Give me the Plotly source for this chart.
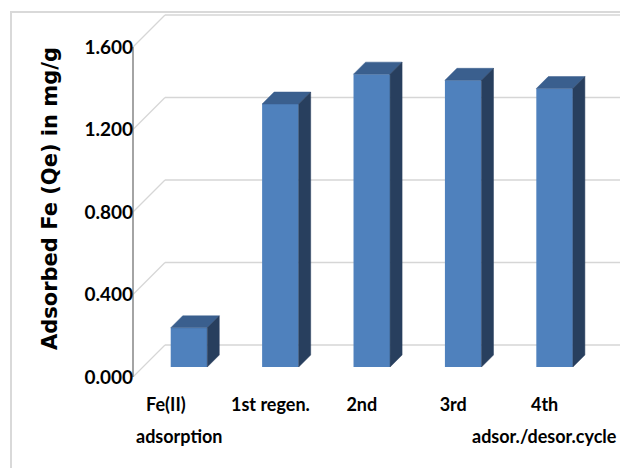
import plotly.graph_objects as go

# ---- data -------------------------------------------------------------
categories = ["Fe(II)\u00a0\u00a0\u00a0\u00a0\u00a0\u00a0", "1st regen.", "2nd", "3rd", "4th"]
second_line = ["adsorption", "", "", "", "adsor./desor.cycle"]
qe_values = [0.19, 1.275, 1.42, 1.39, 1.35]
y_ticks = [0.0, 0.4, 0.8, 1.2, 1.6]
y_tick_text = ["0.000", "0.400", "0.800", "1.200", "1.600"]

# ---- geometry of the oblique 3-D frame (pixels) -----------------------
W, H = 620, 468
L, R, T, B = 120, 0, 8, 91
plot_w = W - L - R
plot_h = H - T - B
PX_PER_CAT = 91.4            # horizontal spacing of the categories
PX_PER_UNIT = 82.5 / 0.4     # vertical scale of the value axis
AXIS_PX = 13                 # front value axis, measured from plot-area left
FIRST_CAT_PX = 59            # first category centre, from plot-area left
WALL = 32                    # depth of the back wall
BAR_FRONT, BAR_BACK = 10, 22 # depth of the bar front / back faces
BAR_W = 0.4                  # bar width in category units

dx = 1.0 / PX_PER_CAT
dy = 1.0 / PX_PER_UNIT
x_min = -FIRST_CAT_PX * dx
x_max = x_min + plot_w * dx
y_max = plot_h * dy
x_axis = x_min + AXIS_PX * dx

BLUE = "#4F81BD"
TOP = "#3A5F8E"
SIDE = "#283F5E"
GRID = "#D6D6D6"
FONT = "Lato, sans-serif"
TITLE_FONT = "DejaVu Sans, sans-serif"

fig = go.Figure()

# back-wall gridlines and left-wall diagonals, kept beneath the bars
for v in y_ticks:
    yb = v + WALL * dy
    fig.add_shape(type="line", xref="x", yref="y", layer="below",
                  x0=x_axis, y0=v, x1=x_axis + WALL * dx, y1=yb,
                  line=dict(color=GRID, width=1.2))
    fig.add_shape(type="line", xref="x", yref="y", layer="below",
                  x0=x_axis + WALL * dx, y0=yb, x1=x_max, y1=yb,
                  line=dict(color=GRID, width=1.5))

# front value axis line
fig.add_shape(type="line", xref="x", yref="y", layer="below",
              x0=x_axis, y0=y_ticks[0], x1=x_axis, y1=y_ticks[-1],
              line=dict(color="#868686", width=1.5))

# bar front faces
xs = [i + BAR_FRONT * dx for i in range(len(qe_values))]
fig.add_trace(go.Bar(
    x=xs, y=qe_values, base=BAR_FRONT * dy, width=BAR_W,
    marker=dict(color=BLUE, line=dict(width=0)),
    showlegend=False, hoverinfo="skip"))

# bar top and side faces
depth = BAR_BACK - BAR_FRONT
for xc, v in zip(xs, qe_values):
    xl, xr = xc - BAR_W / 2, xc + BAR_W / 2
    yb, yt = BAR_FRONT * dy, v + BAR_FRONT * dy
    ox, oy = depth * dx, depth * dy
    fig.add_trace(go.Scatter(
        x=[xl, xr, xr + ox, xl + ox, xl],
        y=[yt, yt, yt + oy, yt + oy, yt],
        fill="toself", fillcolor=TOP, mode="lines",
        line=dict(color=TOP, width=0.5),
        hoverinfo="skip", showlegend=False))
    fig.add_trace(go.Scatter(
        x=[xr, xr + ox, xr + ox, xr, xr],
        y=[yb, yb + oy, yt + oy, yt, yb],
        fill="toself", fillcolor=SIDE, mode="lines",
        line=dict(color=SIDE, width=0.5),
        hoverinfo="skip", showlegend=False))

# second line of the category labels
for i, txt in enumerate(second_line):
    if txt:
        fig.add_annotation(
            x=i, xref="x", y=0, yref="paper", yshift=-46,
            yanchor="top", text=txt, showarrow=False,
            font=dict(family=FONT, size=18, color="#000000", weight="bold"))

# value-axis title
fig.add_annotation(
    x=(50 - L) / plot_w, xref="paper", y=(H - B - 199) / plot_h, yref="paper",
    xanchor="center", yanchor="middle",
    text="<b>Adsorbed Fe (Qe) in mg/g</b>", textangle=-90, showarrow=False,
    font=dict(family=TITLE_FONT, size=21, color="#000000", weight="bold"))

# chart-area border
fig.add_shape(
    type="rect", xref="paper", yref="paper",
    x0=(11 - L) / plot_w, x1=1.2,
    y0=-1.0, y1=(H - B - 12) / plot_h,
    line=dict(color="#D9D9D9", width=2), fillcolor="rgba(0,0,0,0)", layer="below")

fig.update_layout(
    width=W, height=H,
    margin=dict(l=L, r=R, t=T, b=B),
    paper_bgcolor="white", plot_bgcolor="rgba(0,0,0,0)",
    barmode="overlay",
    xaxis=dict(
        range=[x_min, x_max], showgrid=False, zeroline=False, showline=False,
        tickvals=list(range(len(categories))), ticktext=categories,
        ticks="", ticklabelstandoff=15,
        tickfont=dict(family=FONT, size=18, color="#000000", weight="bold")),
    yaxis=dict(
        range=[0, y_max], showgrid=False, zeroline=False, showline=False,
        anchor="free", position=AXIS_PX / plot_w,
        tickvals=y_ticks, ticktext=y_tick_text, ticks="",
        tickfont=dict(family=FONT, size=19, color="#000000", weight="bold")),
)

fig.write_html("out.html")
